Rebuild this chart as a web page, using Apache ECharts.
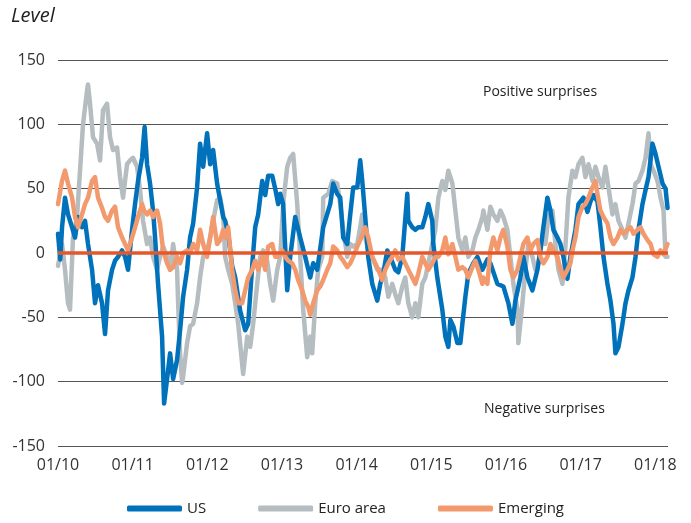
<!DOCTYPE html>
<html>
<head>
<meta charset="utf-8">
<script src="https://cdn.jsdelivr.net/npm/echarts@6/dist/echarts.min.js"></script>
<style>
  html, body { margin: 0; padding: 0; background: #fff; }
  #chart { width: 691px; height: 523px; }
</style>
</head>
<body>
<div id="chart"></div>
<script>
// surprise index levels, [decimal year, value]
const usData = [
  [2010.000, 15], [2010.030, -5], [2010.054, 20], [2010.094, 43], [2010.134, 30], [2010.188, 20],
  [2010.228, 12], [2010.268, 28], [2010.322, 20], [2010.362, 25], [2010.402, 7], [2010.456, -13],
  [2010.496, -39], [2010.536, -25], [2010.590, -39], [2010.630, -63], [2010.670, -29], [2010.724, -13],
  [2010.764, -6], [2010.804, -3], [2010.858, 2], [2010.898, -3], [2010.938, -13], [2010.992, 18],
  [2011.032, 38], [2011.072, 56], [2011.126, 74], [2011.160, 98], [2011.193, 69], [2011.233, 54],
  [2011.273, 33], [2011.300, 12], [2011.340, -24], [2011.394, -65], [2011.421, -117], [2011.461, -98],
  [2011.501, -78], [2011.542, -98], [2011.595, -83], [2011.635, -60], [2011.676, -34], [2011.729, -13],
  [2011.769, 12], [2011.810, 23], [2011.863, 51], [2011.903, 85], [2011.944, 67], [2011.997, 93],
  [2012.038, 69], [2012.078, 80], [2012.131, 54], [2012.172, 41], [2012.212, 28], [2012.239, 25],
  [2012.279, 15], [2012.332, -10], [2012.373, -19], [2012.440, -45], [2012.507, -60], [2012.547, -55],
  [2012.601, -10], [2012.641, 20], [2012.681, 30], [2012.735, 56], [2012.775, 45], [2012.815, 60],
  [2012.869, 60], [2012.909, 50], [2012.949, 38], [2012.976, 46], [2013.016, 38], [2013.070, -29],
  [2013.110, -3], [2013.177, 28], [2013.244, 12], [2013.311, -3], [2013.378, -19], [2013.418, -8],
  [2013.472, -13], [2013.552, 20], [2013.646, 38], [2013.686, 54], [2013.740, 46], [2013.780, 43],
  [2013.820, 12], [2013.874, 7], [2013.914, 30], [2013.954, 51], [2014.008, 51], [2014.048, 72],
  [2014.075, 56], [2014.115, 28], [2014.155, -3], [2014.209, -24], [2014.276, -37], [2014.316, -24],
  [2014.357, -16], [2014.410, 2], [2014.450, -3], [2014.517, -13], [2014.558, -15], [2014.611, -3],
  [2014.678, 46], [2014.692, 25], [2014.745, 20], [2014.786, 18], [2014.826, 20], [2014.879, 20],
  [2014.920, 28], [2014.960, 38], [2015.013, 25], [2015.027, 7], [2015.080, -19], [2015.147, -44],
  [2015.188, -65], [2015.228, -73], [2015.255, -52], [2015.295, -57], [2015.349, -70], [2015.389, -70],
  [2015.416, -55], [2015.456, -34], [2015.496, -16], [2015.563, -8], [2015.617, -3], [2015.684, -13],
  [2015.751, -5], [2015.791, -8], [2015.885, -24], [2015.965, -26], [2016.032, -39], [2016.086, -55],
  [2016.126, -37], [2016.193, -19], [2016.233, -3], [2016.287, -19], [2016.354, -29], [2016.421, -13],
  [2016.461, 2], [2016.501, 20], [2016.555, 43], [2016.595, 33], [2016.635, 18], [2016.689, 12],
  [2016.729, 7], [2016.769, -3], [2016.823, -20], [2016.863, -3], [2016.930, 18], [2016.971, 38],
  [2017.038, 43], [2017.091, 32], [2017.131, 40], [2017.172, 45], [2017.225, 40], [2017.265, 20],
  [2017.306, -3], [2017.359, -24], [2017.399, -37], [2017.440, -55], [2017.466, -78], [2017.507, -73],
  [2017.560, -55], [2017.601, -39], [2017.641, -29], [2017.694, -19], [2017.735, -3], [2017.775, 18],
  [2017.828, 38], [2017.869, 49], [2017.909, 59], [2017.962, 85], [2018.003, 77], [2018.043, 67],
  [2018.097, 54], [2018.137, 50], [2018.164, 35]
];

const euroData = [
  [2010.000, -10], [2010.054, 7], [2010.094, -13], [2010.134, -39], [2010.161, -44], [2010.201, 12],
  [2010.255, 28], [2010.295, 64], [2010.335, 100], [2010.389, 126], [2010.402, 131], [2010.429, 116],
  [2010.469, 90], [2010.523, 85], [2010.563, 72], [2010.603, 111], [2010.657, 116], [2010.697, 90],
  [2010.737, 80], [2010.791, 82], [2010.831, 59], [2010.871, 43], [2010.925, 69], [2010.965, 72],
  [2011.005, 74], [2011.059, 67], [2011.099, 49], [2011.139, 25], [2011.193, 7], [2011.233, 12],
  [2011.273, -3], [2011.327, -13], [2011.367, -3], [2011.408, 5], [2011.461, -3], [2011.501, -13],
  [2011.542, 7], [2011.595, -13], [2011.609, -39], [2011.635, -78], [2011.662, -101], [2011.676, -96],
  [2011.729, -70], [2011.769, -57], [2011.810, -55], [2011.863, -39], [2011.903, -19], [2011.944, -3],
  [2011.997, 2], [2012.038, 12], [2012.078, 25], [2012.131, 41], [2012.172, 43], [2012.212, 30],
  [2012.239, -3], [2012.279, -13], [2012.332, -24], [2012.373, -39], [2012.413, -55], [2012.466, -86],
  [2012.480, -94], [2012.534, -65], [2012.574, -73], [2012.614, -55], [2012.668, -24], [2012.708, -3],
  [2012.748, 2], [2012.802, -6], [2012.842, -24], [2012.882, -37], [2012.936, -13], [2012.976, -3],
  [2013.016, 38], [2013.070, 67], [2013.110, 74], [2013.150, 77], [2013.204, 38], [2013.244, -3],
  [2013.284, -44], [2013.338, -81], [2013.378, -65], [2013.405, -78], [2013.445, -39], [2013.485, -13],
  [2013.539, -3], [2013.552, 43], [2013.619, 46], [2013.673, 56], [2013.740, 54], [2013.780, 38],
  [2013.820, 18], [2013.874, -3], [2013.914, 7], [2013.954, 5], [2014.008, 7], [2014.048, 20],
  [2014.075, 30], [2014.115, 12], [2014.155, 2], [2014.209, -3], [2014.276, -13], [2014.343, -13],
  [2014.383, -19], [2014.424, -34], [2014.477, -24], [2014.517, -32], [2014.558, -39], [2014.611, -26],
  [2014.651, -19], [2014.692, -39], [2014.745, -50], [2014.786, -39], [2014.826, -50], [2014.879, -24],
  [2014.920, -19], [2014.960, -8], [2015.013, 7], [2015.054, 18], [2015.094, 43], [2015.147, 56],
  [2015.188, 49], [2015.228, 64], [2015.282, 54], [2015.322, 33], [2015.362, 12], [2015.416, 2],
  [2015.456, 12], [2015.496, -3], [2015.550, 2], [2015.590, 12], [2015.630, 18], [2015.684, 28],
  [2015.697, 33], [2015.751, 18], [2015.791, 36], [2015.831, 30], [2015.885, 25], [2015.925, 33],
  [2015.965, 28], [2016.019, 18], [2016.059, -3], [2016.099, -24], [2016.153, -44], [2016.166, -70],
  [2016.220, -39], [2016.260, -13], [2016.300, 7], [2016.354, -3], [2016.394, -13], [2016.434, -8],
  [2016.488, 12], [2016.528, 7], [2016.568, 28], [2016.622, 33], [2016.662, 7], [2016.702, -13],
  [2016.756, -24], [2016.796, 5], [2016.836, 43], [2016.890, 64], [2016.930, 59], [2016.971, 69],
  [2017.024, 74], [2017.064, 59], [2017.105, 69], [2017.158, 56], [2017.198, 67], [2017.239, 59],
  [2017.292, 51], [2017.332, 67], [2017.373, 51], [2017.426, 30], [2017.466, 38], [2017.507, 25],
  [2017.560, 18], [2017.601, 12], [2017.641, 23], [2017.694, 38], [2017.735, 54], [2017.775, 56],
  [2017.828, 64], [2017.869, 74], [2017.909, 93], [2017.936, 69], [2017.976, 64], [2018.029, 56],
  [2018.070, 43], [2018.110, 33], [2018.137, -3], [2018.164, -3]
];

const emergingData = [
  [2010.000, 38], [2010.054, 56], [2010.094, 64], [2010.134, 54], [2010.188, 43], [2010.228, 28],
  [2010.268, 20], [2010.322, 30], [2010.362, 38], [2010.402, 43], [2010.456, 56], [2010.496, 59],
  [2010.536, 43], [2010.590, 35], [2010.630, 28], [2010.670, 25], [2010.724, 33], [2010.764, 36],
  [2010.804, 20], [2010.858, 12], [2010.898, 7], [2010.938, 2], [2010.992, 12], [2011.032, 20],
  [2011.072, 28], [2011.126, 38], [2011.153, 33], [2011.193, 30], [2011.233, 33], [2011.273, 28],
  [2011.327, 33], [2011.367, 23], [2011.408, 2], [2011.461, -8], [2011.501, -13], [2011.542, -11],
  [2011.595, -3], [2011.635, -8], [2011.676, 0], [2011.729, 2], [2011.769, 0], [2011.810, 7],
  [2011.863, 2], [2011.903, 18], [2011.944, 7], [2011.997, -3], [2012.038, 12], [2012.078, 28],
  [2012.131, 7], [2012.172, 10], [2012.212, 18], [2012.239, 12], [2012.279, 20], [2012.332, -13],
  [2012.373, -29], [2012.413, -39], [2012.466, -39], [2012.507, -29], [2012.547, -19], [2012.601, -13],
  [2012.641, -6], [2012.681, -13], [2012.735, -3], [2012.775, -13], [2012.815, 5], [2012.869, 7],
  [2012.909, -3], [2012.949, -3], [2013.003, 2], [2013.043, -3], [2013.083, -6], [2013.137, -8],
  [2013.177, -13], [2013.217, -21], [2013.271, -29], [2013.311, -37], [2013.351, -42], [2013.378, -48],
  [2013.418, -39], [2013.472, -29], [2013.512, -26], [2013.552, -21], [2013.606, -13], [2013.646, -8],
  [2013.686, 5], [2013.740, 2], [2013.780, -3], [2013.820, -6], [2013.874, -11], [2013.914, -8],
  [2013.954, -3], [2014.008, 5], [2014.048, 10], [2014.115, 20], [2014.155, 12], [2014.209, -3],
  [2014.249, -8], [2014.290, -13], [2014.343, -21], [2014.383, -13], [2014.424, -8], [2014.477, -3],
  [2014.517, 2], [2014.558, -5], [2014.611, -3], [2014.651, -8], [2014.692, -13], [2014.745, -19],
  [2014.786, -24], [2014.826, -16], [2014.879, -3], [2014.920, -8], [2014.960, -13], [2015.013, -8],
  [2015.054, -3], [2015.094, -3], [2015.147, 2], [2015.188, 12], [2015.228, -1], [2015.282, 7],
  [2015.322, -3], [2015.362, -13], [2015.416, -11], [2015.456, -13], [2015.496, -19], [2015.550, -11],
  [2015.590, -6], [2015.630, -13], [2015.684, -24], [2015.697, -19], [2015.751, -24], [2015.791, 2],
  [2015.831, 12], [2015.885, 2], [2015.925, 12], [2015.965, 18], [2016.019, 5], [2016.059, -13],
  [2016.099, -19], [2016.153, -13], [2016.193, -3], [2016.233, 7], [2016.287, 12], [2016.327, 2],
  [2016.367, 7], [2016.421, 10], [2016.461, -3], [2016.501, -8], [2016.555, -3], [2016.595, 7],
  [2016.635, 2], [2016.689, -3], [2016.729, -13], [2016.769, -19], [2016.823, -13], [2016.863, -8],
  [2016.890, 2], [2016.930, 12], [2016.971, 28], [2017.024, 36], [2017.064, 38], [2017.105, 43],
  [2017.158, 51], [2017.198, 56], [2017.225, 46], [2017.265, 33], [2017.306, 28], [2017.359, 23],
  [2017.399, 12], [2017.440, 7], [2017.493, 12], [2017.534, 18], [2017.574, 15], [2017.627, 18],
  [2017.668, 20], [2017.708, 15], [2017.761, 18], [2017.802, 20], [2017.842, 15], [2017.895, 10],
  [2017.936, 7], [2017.976, -1], [2018.029, -3], [2018.070, 2], [2018.110, -1], [2018.164, 7]
];

const yTicks = { min: -150, max: 150, step: 50 };
const xRange = { first: 2010, last: 2018.17 };

const chart = echarts.init(document.getElementById('chart'));
const font = 'Open Sans';

const lineSeries = (name, data, color, z) => ({
  name: name,
  type: 'line',
  data: data,
  showSymbol: false,
  symbol: 'none',
  z: z,
  lineStyle: { color: color, width: 4.5, cap: 'round', join: 'round' },
  itemStyle: { color: color }
});

const us = lineSeries('US', usData, '#0072bb', 3);
const euro = lineSeries('Euro area', euroData, '#b5bdc1', 2);
const emerging = lineSeries('Emerging', emergingData, '#f29a6e', 4);
// thick zero line on top
emerging.markLine = {
  silent: true,
  symbol: 'none',
  z: 10,
  label: { show: false },
  lineStyle: { color: '#e4572b', width: 3.5, type: 'solid' },
  data: [{ yAxis: 0 }]
};

chart.setOption({
  animation: false,
  textStyle: { fontFamily: font },
  grid: { left: 58, right: 23, top: 60, bottom: 77 },
  legend: {
    bottom: 2,
    left: 'center',
    itemWidth: 55,
    itemHeight: 6,
    itemGap: 52,
    icon: 'roundRect',
    textStyle: { fontSize: 15, color: '#222', fontFamily: font },
    data: ['US', 'Euro area', 'Emerging']
  },
  xAxis: {
    type: 'value',
    min: xRange.first,
    max: xRange.last,
    interval: 1,
    axisLine: { show: false },
    axisTick: { show: false },
    splitLine: { show: false },
    axisLabel: {
      margin: 11,
      fontSize: 16,
      color: '#333',
      formatter: v => Number.isInteger(v) ? '01/' + String(v).slice(2) : ''
    }
  },
  yAxis: {
    type: 'value',
    min: yTicks.min,
    max: yTicks.max,
    interval: yTicks.step,
    axisLine: { show: false },
    axisTick: { show: false },
    axisLabel: { margin: 13, fontSize: 16, color: '#333' },
    splitLine: { lineStyle: { color: '#555', width: 1 } }
  },
  graphic: [
    { type: 'text', left: 11, top: 6,
      style: { text: 'Level', fontSize: 20, fontStyle: 'italic', fill: '#222', fontFamily: font } },
    { type: 'text', left: 483, top: 85,
      style: { text: 'Positive surprises', fontSize: 14, fill: '#222', fontFamily: font } },
    { type: 'text', left: 484, top: 402,
      style: { text: 'Negative surprises', fontSize: 14, fill: '#222', fontFamily: font } }
  ],
  series: [us, euro, emerging]
});
</script>
</body>
</html>
